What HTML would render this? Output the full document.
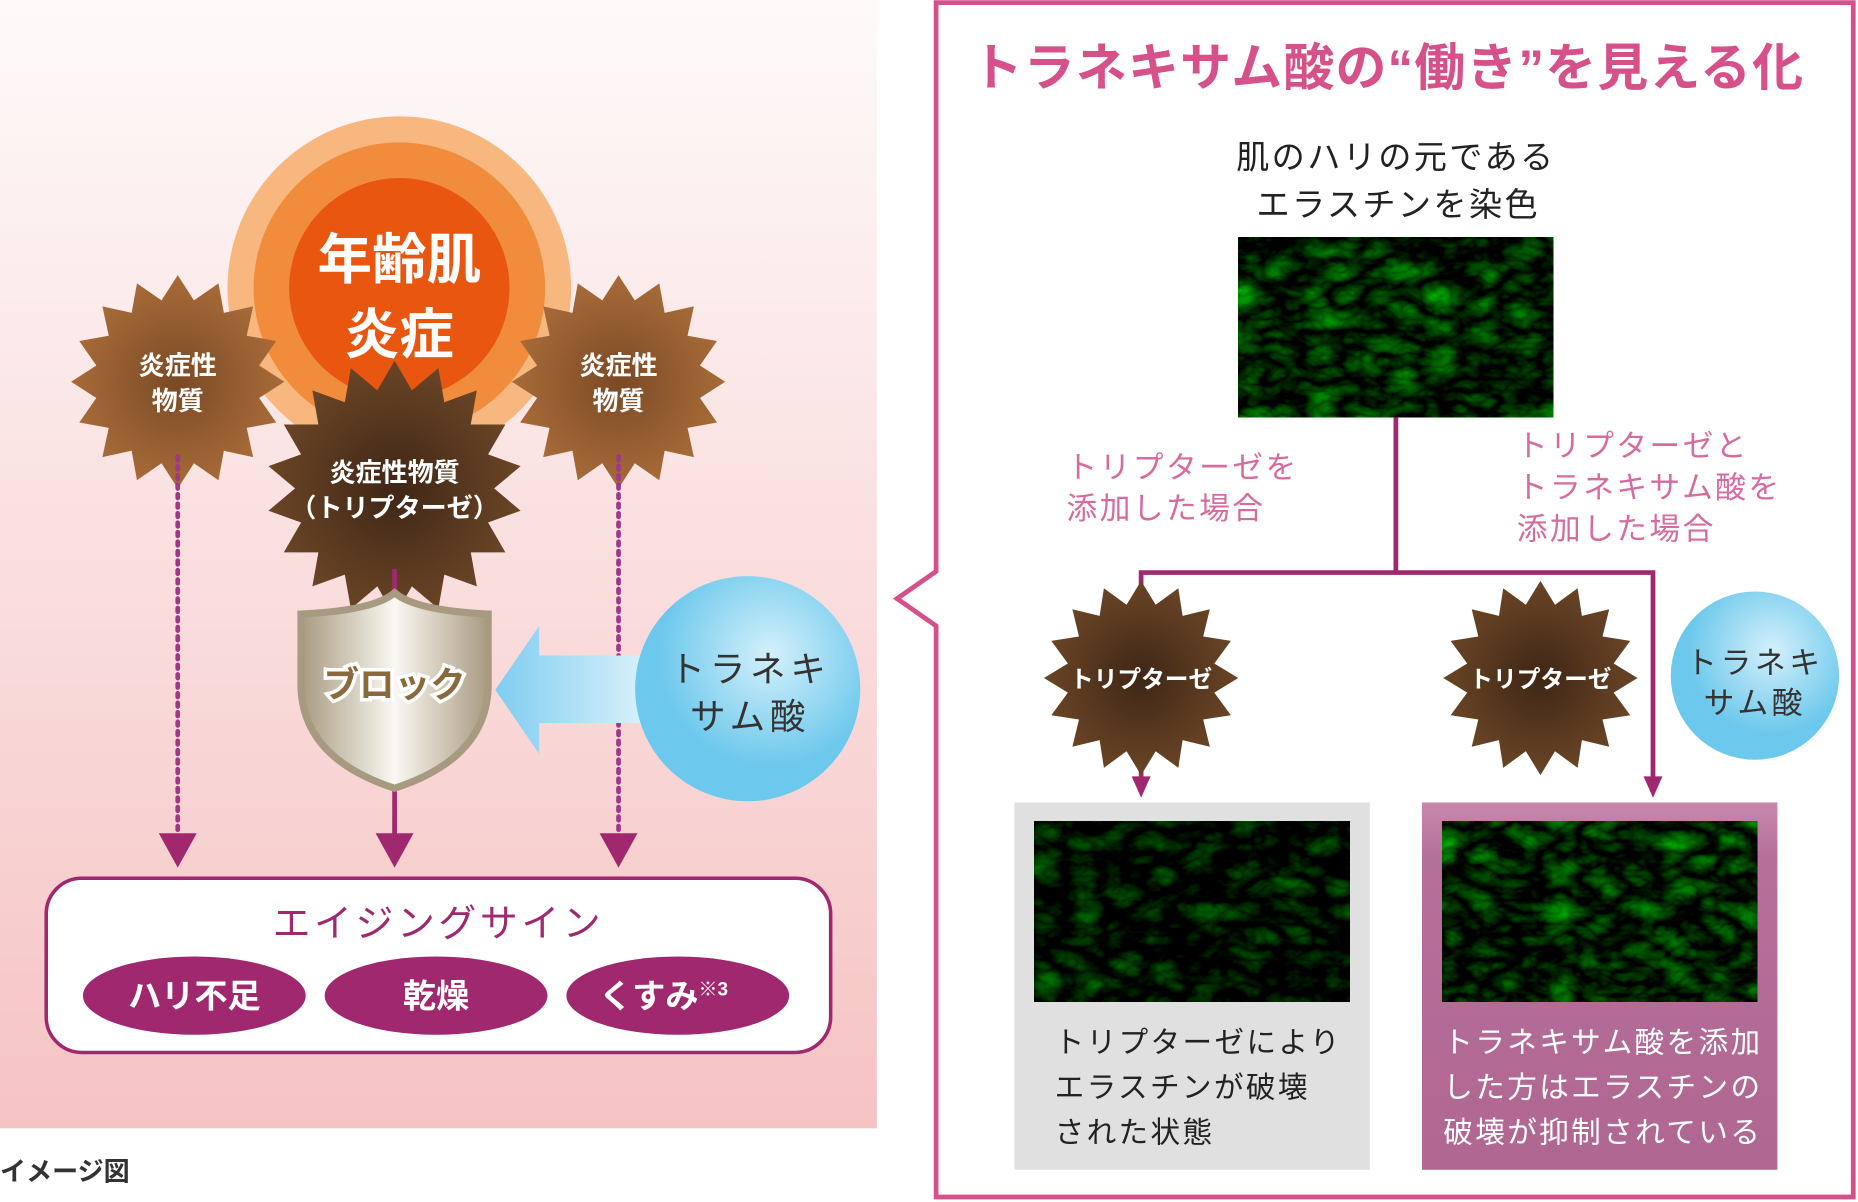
<!DOCTYPE html>
<html><head><meta charset="utf-8"><style>
html,body{margin:0;padding:0;background:#fff}
svg{display:block}
text{font-family:"Liberation Sans","Noto Sans CJK JP",sans-serif}
</style></head><body>
<svg id="s" width="1858" height="1202" viewBox="0 0 1568 1014" xmlns="http://www.w3.org/2000/svg">
<defs>
<linearGradient id="bg" x1="0" y1="0" x2="0" y2="1"><stop offset="0" stop-color="#fefafa"/><stop offset="1" stop-color="#f6c3c3"/></linearGradient>
<radialGradient id="br1"><stop offset="0" stop-color="#7a4a26"/><stop offset="1" stop-color="#a86b38"/></radialGradient>
<radialGradient id="br2"><stop offset="0" stop-color="#3f2616"/><stop offset="1" stop-color="#6a4526"/></radialGradient>
<radialGradient id="blue" cx="0.6" cy="0.35"><stop offset="0" stop-color="#d4f0fb"/><stop offset="1" stop-color="#6cc8ec"/></radialGradient>
<linearGradient id="arr" x1="0" x2="1"><stop offset="0" stop-color="#7fcdf0"/><stop offset="1" stop-color="#e4f5fc"/></linearGradient>
<linearGradient id="sh" x1="0" x2="1"><stop offset="0" stop-color="#a89a80"/><stop offset="0.5" stop-color="#faf8f2"/><stop offset="1" stop-color="#a89a80"/></linearGradient>
<linearGradient id="pb" x1="0" y1="0" x2="0" y2="1"><stop offset="0" stop-color="#c888ac"/><stop offset="0.15" stop-color="#b5709a"/><stop offset="1" stop-color="#b06792"/></linearGradient>
<filter id="micro" x="0" y="0" width="1" height="1" color-interpolation-filters="sRGB">
<feTurbulence type="turbulence" baseFrequency="0.03 0.05" numOctaves="3" seed="5"/>
<feColorMatrix type="matrix" values="0 0 0 0 0  0.9 0 0 0 -0.12  0 0 0 0 0  0 0 0 0 1"/>
</filter>
<filter id="micro2" x="0" y="0" width="1" height="1" color-interpolation-filters="sRGB">
<feTurbulence type="turbulence" baseFrequency="0.03 0.05" numOctaves="3" seed="9"/>
<feColorMatrix type="matrix" values="0 0 0 0 0  0.7 0 0 0 -0.14  0 0 0 0 0  0 0 0 0 1"/>
</filter>
</defs>
<rect x="0" y="0" width="740" height="952" fill="url(#bg)"/>
<text x="0" y="996" font-size="22" font-weight="bold" fill="#333">イメージ図</text>

<circle cx="337" cy="243" r="145" fill="#f7b77e"/>
<circle cx="337" cy="243" r="123" fill="#f08c3c"/>
<circle cx="337" cy="243" r="93" fill="#e8560f"/>
<text x="337" y="235" font-size="46" font-weight="bold" fill="#fff" text-anchor="middle">年齢肌</text>
<text x="337" y="298" font-size="46" font-weight="bold" fill="#fff" text-anchor="middle">炎症</text>

<g id="stars"></g>
<text x="150" y="316" font-size="22" font-weight="bold" fill="#fff" text-anchor="middle">炎症性</text>
<text x="150" y="346" font-size="22" font-weight="bold" fill="#fff" text-anchor="middle">物質</text>
<text x="522" y="316" font-size="22" font-weight="bold" fill="#fff" text-anchor="middle">炎症性</text>
<text x="522" y="346" font-size="22" font-weight="bold" fill="#fff" text-anchor="middle">物質</text>
<text x="333" y="406" font-size="22" font-weight="bold" fill="#fff" text-anchor="middle">炎症性物質</text>
<text x="333" y="436" font-size="22" font-weight="bold" fill="#fff" text-anchor="middle">（トリプターゼ）</text>

<line x1="150" y1="385" x2="150" y2="712" stroke="#a0388a" stroke-width="4" stroke-dasharray="3 5" stroke-linecap="round"/>
<line x1="522" y1="385" x2="522" y2="712" stroke="#a0388a" stroke-width="4" stroke-dasharray="3 5" stroke-linecap="round"/>
<polygon points="134,703 166,703 150,732" fill="#a0286e"/>
<polygon points="506,703 538,703 522,732" fill="#a0286e"/>
<line x1="333" y1="480" x2="333" y2="505" stroke="#a0286e" stroke-width="4"/>
<line x1="333" y1="655" x2="333" y2="712" stroke="#a0286e" stroke-width="4"/>
<polygon points="317,703 349,703 333,732" fill="#a0286e"/>

<path d="M333,500 Q350,515 412,518 L412,580 Q410,640 333,665 Q256,640 254,580 L254,518 Q316,515 333,500Z" fill="url(#sh)" stroke="#a89a80" stroke-width="6"/>
<text x="333" y="588" font-size="30" font-weight="bold" fill="#8a6a3a" stroke="#fff" stroke-width="6" paint-order="stroke" text-anchor="middle">ブロック</text>

<polygon points="418,582 455,528 455,553 560,553 560,610 455,610 455,636" fill="url(#arr)"/>
<circle cx="631" cy="581" r="95" fill="url(#blue)"/>
<text x="633" y="575" font-size="30" fill="#333" text-anchor="middle" letter-spacing="4">トラネキ</text>
<text x="633" y="615" font-size="30" fill="#333" text-anchor="middle" letter-spacing="4">サム酸</text>

<rect x="39" y="741" width="662" height="147" rx="30" fill="#fff" stroke="#a0286e" stroke-width="3"/>
<text x="370" y="790" font-size="32" fill="#a0286e" text-anchor="middle" letter-spacing="3">エイジングサイン</text>
<ellipse cx="164" cy="840" rx="94" ry="33" fill="#a0286e"/>
<ellipse cx="368" cy="840" rx="94" ry="33" fill="#a0286e"/>
<ellipse cx="572" cy="840" rx="94" ry="33" fill="#a0286e"/>
<text x="164" y="850" font-size="28" font-weight="bold" fill="#fff" text-anchor="middle">ハリ不足</text>
<text x="368" y="850" font-size="28" font-weight="bold" fill="#fff" text-anchor="middle">乾燥</text>
<text x="560" y="850" font-size="28" font-weight="bold" fill="#fff" text-anchor="middle">くすみ<tspan font-size="16" dy="-10">※3</tspan></text>

<path d="M790,2 L1564,2 L1564,1010 L790,1010 L790,528 L757,505 L790,482 Z" fill="#fff" stroke="#d6508a" stroke-width="4"/>
<text x="820" y="72" font-size="43" font-weight="bold" fill="#d6508a" letter-spacing="1">トラネキサム酸の“働き”を見える化</text>
<text x="1178" y="142" font-size="28" fill="#222" text-anchor="middle" letter-spacing="2">肌のハリの元である</text>
<text x="1180" y="182" font-size="28" fill="#222" text-anchor="middle" letter-spacing="2">エラスチンを染色</text>
<rect x="1045" y="200" width="266" height="152" fill="#000" filter="url(#micro)"/>

<text x="900" y="403" font-size="26" fill="#d66ba0" letter-spacing="2">トリプターゼを</text>
<text x="900" y="438" font-size="26" fill="#d66ba0" letter-spacing="2">添加した場合</text>
<text x="1280" y="385" font-size="26" fill="#d66ba0" letter-spacing="2">トリプターゼと</text>
<text x="1280" y="420" font-size="26" fill="#d66ba0" letter-spacing="2">トラネキサム酸を</text>
<text x="1280" y="455" font-size="26" fill="#d66ba0" letter-spacing="2">添加した場合</text>

<path d="M1178,352 V483 M963,660 V483 H1395 V660" fill="none" stroke="#a0286e" stroke-width="4"/>
<polygon points="955,655 971,655 963,673" fill="#a0286e"/>
<polygon points="1387,655 1403,655 1395,673" fill="#a0286e"/>
<g id="stars2"></g>
<text x="963" y="580" font-size="20" font-weight="bold" fill="#fff" text-anchor="middle">トリプターゼ</text>
<text x="1300" y="580" font-size="20" font-weight="bold" fill="#fff" text-anchor="middle">トリプターゼ</text>
<circle cx="1481" cy="570" r="71" fill="url(#blue)"/>
<text x="1481" y="568" font-size="26" fill="#333" text-anchor="middle" letter-spacing="3">トラネキ</text>
<text x="1481" y="602" font-size="26" fill="#333" text-anchor="middle" letter-spacing="3">サム酸</text>

<rect x="856" y="677" width="300" height="310" fill="#e0e0e0"/>
<rect x="873" y="693" width="266" height="152" fill="#000" filter="url(#micro2)"/>
<text x="890" y="888" font-size="25" fill="#222" letter-spacing="2">トリプターゼにより</text>
<text x="890" y="926" font-size="25" fill="#222" letter-spacing="2">エラスチンが破壊</text>
<text x="890" y="964" font-size="25" fill="#222" letter-spacing="2">された状態</text>
<rect x="1200" y="677" width="300" height="310" fill="url(#pb)"/>
<rect x="1217" y="693" width="266" height="152" fill="#000" filter="url(#micro)"/>
<text x="1218" y="888" font-size="25" fill="#fff" letter-spacing="2">トラネキサム酸を添加</text>
<text x="1218" y="926" font-size="25" fill="#fff" letter-spacing="2">した方はエラスチンの</text>
<text x="1218" y="964" font-size="25" fill="#fff" letter-spacing="2">破壊が抑制されている</text>
</svg>
<script>
function star(cx,cy,ro,ri,n,fill,g){var p=[];for(var i=0;i<2*n;i++){var a=Math.PI*i/n-Math.PI/2;var r=i%2?ri:ro;p.push((cx+r*Math.cos(a)).toFixed(1)+","+(cy+r*Math.sin(a)).toFixed(1));}
var e=document.createElementNS("http://www.w3.org/2000/svg","polygon");e.setAttribute("points",p.join(" "));e.setAttribute("fill",fill);document.getElementById(g).appendChild(e);}
star(150,322,90,70,16,"url(#br1)","stars");
star(522,322,90,70,16,"url(#br1)","stars");
star(333,412,108,84,18,"url(#br2)","stars");
star(963,572,82,63,16,"url(#br2)","stars2");
star(1300,572,82,63,16,"url(#br2)","stars2");
</script>
</body></html>
